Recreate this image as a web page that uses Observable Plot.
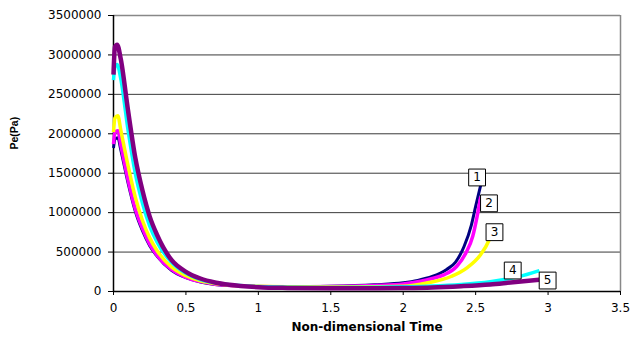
<!DOCTYPE html>
<html>
<head>
<meta charset="utf-8">
<script src="https://cdn.jsdelivr.net/npm/d3@7"></script>
<script src="https://cdn.jsdelivr.net/npm/@observablehq/plot@0.6"></script>
<style>
  html, body { margin: 0; padding: 0; background: #fff; }
  #chart svg { display: block; }
</style>
</head>
<body>
<div id="chart"></div>
<script>
// ---- data ----
const seriesNames = ["1", "2", "3", "4", "5"];
const seriesColors = ["#000080", "#FF00FF", "#FFFF00", "#00FFFF", "#800080"];

const t1 = [0, 0.01, 0.03, 0.05, 0.1, 0.15, 0.2, 0.25, 0.3, 0.4, 0.5, 0.6, 0.7, 0.8, 1.0, 1.2, 1.5, 1.8, 2.0, 2.1, 2.2, 2.3, 2.36, 2.42, 2.47, 2.5, 2.535];
const v1 = [1820000, 1930000, 1950000, 1800000, 1380000, 1020000, 770000, 580000, 450000, 270000, 175000, 120000, 90000, 75000, 62000, 58000, 65000, 85000, 110000, 140000, 190000, 280000, 370000, 570000, 840000, 1080000, 1350000];

const t2 = [0, 0.01, 0.03, 0.05, 0.1, 0.15, 0.2, 0.25, 0.3, 0.4, 0.5, 0.6, 0.7, 0.8, 1.0, 1.2, 1.5, 1.8, 2.0, 2.12, 2.2, 2.28, 2.37, 2.43, 2.48, 2.51, 2.535];
const v2 = [1870000, 2020000, 2040000, 1860000, 1420000, 1050000, 800000, 600000, 460000, 280000, 180000, 125000, 93000, 77000, 63000, 58000, 62000, 75000, 95000, 130000, 165000, 210000, 320000, 480000, 700000, 950000, 1200000];

const t3 = [0, 0.01, 0.03, 0.05, 0.1, 0.15, 0.2, 0.25, 0.3, 0.4, 0.5, 0.6, 0.7, 0.8, 1.0, 1.2, 1.5, 1.8, 2.0, 2.17, 2.33, 2.44, 2.535, 2.59, 2.63];
const v3 = [2020000, 2200000, 2230000, 2050000, 1600000, 1200000, 900000, 680000, 520000, 310000, 200000, 135000, 100000, 80000, 65000, 60000, 58000, 60000, 65000, 110000, 190000, 300000, 470000, 640000, 850000];

const t4 = [0, 0.01, 0.025, 0.05, 0.1, 0.15, 0.2, 0.25, 0.3, 0.4, 0.5, 0.6, 0.7, 0.8, 1.0, 1.2, 1.5, 1.8, 2.0, 2.2, 2.4, 2.6, 2.79, 2.94];
const v4 = [2680000, 2850000, 2880000, 2700000, 2050000, 1500000, 1120000, 830000, 630000, 370000, 230000, 150000, 110000, 85000, 63000, 55000, 52000, 55000, 60000, 70000, 90000, 125000, 185000, 265000];

const t5 = [0, 0.01, 0.025, 0.05, 0.1, 0.15, 0.2, 0.25, 0.3, 0.4, 0.5, 0.6, 0.7, 0.8, 1.0, 1.2, 1.5, 1.8, 2.0, 2.2, 2.4, 2.6, 2.72, 2.94];
const v5 = [2750000, 3100000, 3130000, 2950000, 2300000, 1700000, 1280000, 950000, 720000, 400000, 250000, 165000, 115000, 85000, 55000, 45000, 40000, 42000, 45000, 52000, 68000, 90000, 110000, 150000];

// callout label anchors (data units)
const labelT = [2.51, 2.592, 2.63, 2.756, 2.997];
const labelV = [1446000, 1118000, 752000, 266000, 139000];

const xTicks = [0, 0.5, 1, 1.5, 2, 2.5, 3, 3.5];
const yTicks = [0, 500000, 1000000, 1500000, 2000000, 2500000, 3000000, 3500000];
const xTitle = "Non-dimensional Time";
const yTitle = "Pe(Pa)";

// ---- build tables ----
const allT = [t1, t2, t3, t4, t5];
const allV = [v1, v2, v3, v4, v5];
const rows = [];
seriesNames.forEach((s, i) => {
  allT[i].forEach((t, j) => rows.push({series: s, t, v: allV[i][j]}));
});
const labels = seriesNames.map((s, i) => ({series: s, t: labelT[i], v: labelV[i]}));

const widths = {"1": 3, "2": 3.5, "3": 3.5, "4": 3.5, "5": 4.5};

const lineMarks = seriesNames.map(s =>
  Plot.line(rows.filter(d => d.series === s), {
    x: "t", y: "v", stroke: "series", strokeWidth: widths[s],
    curve: "monotone-x", strokeLinejoin: "round", strokeLinecap: "butt"
  })
);

const tickFont = {fontFamily: "DejaVu Sans", fontSize: 12};

const chart = Plot.plot({
  width: 632,
  height: 341,
  marginLeft: 113,
  marginRight: 12,
  marginTop: 15,
  marginBottom: 50,
  style: {background: "#fff", fontFamily: "DejaVu Sans", fontSize: "12px", color: "#000"},
  x: {domain: [0, 3.5]},
  y: {domain: [0, 3500000]},
  color: {domain: seriesNames, range: seriesColors},
  marks: [
    Plot.gridY(yTicks, {stroke: "#3a3a3a", strokeOpacity: 1, strokeWidth: 1}),
    Plot.ruleX([3.5], {stroke: "#888", strokeWidth: 1.5}),
    Plot.ruleY([3500000], {stroke: "#888", strokeWidth: 1.5}),
    Plot.axisY(yTicks, {
      tickFormat: d => String(d), tickSize: 5, tickPadding: 7,
      label: null, stroke: "#000", ...tickFont, letterSpacing: 1.5
    }),
    Plot.axisX(xTicks, {
      tickFormat: d => String(d), tickSize: 4, tickPadding: 8,
      label: null, stroke: "#000", ...tickFont, letterSpacing: 1.5
    }),
    Plot.ruleX([0], {stroke: "#000", strokeWidth: 1.5}),
    Plot.ruleY([0], {stroke: "#000", strokeWidth: 1.5}),
    ...lineMarks,
    Plot.dot(labels, {x: "t", y: "v", symbol: "square", r: 9.5, fill: "#fff", stroke: "#000", strokeWidth: 1}),
    Plot.text(labels, {x: "t", y: "v", text: "series", fill: "#000", fontFamily: "DejaVu Sans", fontSize: 12}),
    Plot.text([xTitle], {frameAnchor: "bottom", dy: 36, lineAnchor: "middle", fontFamily: "DejaVu Sans", fontWeight: "bold", fontSize: 12, fill: "#000"}),
    Plot.text([yTitle], {frameAnchor: "left", dx: -99, dy: -4, rotate: -90, lineAnchor: "middle", fontFamily: "Liberation Sans", fontWeight: "bold", fontSize: 10.5, fill: "#000"})
  ]
});

document.getElementById("chart").appendChild(chart);
</script>
</body>
</html>
